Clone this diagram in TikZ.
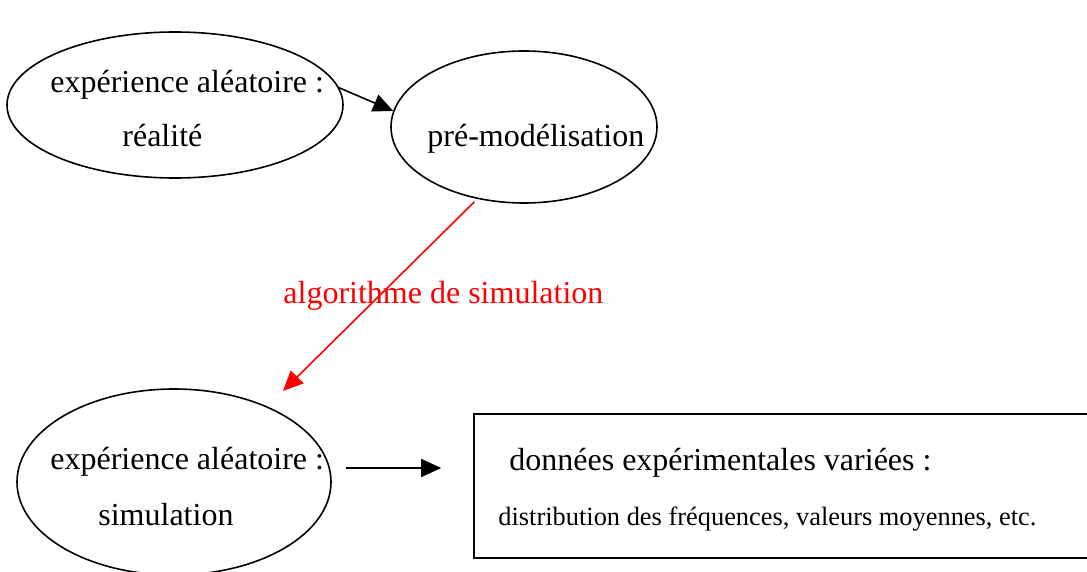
\documentclass[tikz,border=0pt]{standalone}
\usepackage{fontspec}
\setmainfont{Liberation Serif}
\usepackage{tikz}
\usetikzlibrary{shapes.geometric, arrows.meta}

\begin{document}
\begin{tikzpicture}[x=0.5pt,y=-0.5pt]
		\tikzset{state/.style={draw,ellipse,line width=0.8pt,inner sep=0pt}}
		\tikzset{databox/.style={draw,rectangle,line width=0.8pt,inner sep=0pt}}
		\tikzset{txt/.style={inner sep=0pt,anchor=base west,font=\fontsize{16}{19}\selectfont}}
		\tikzset{smalltxt/.style={inner sep=0pt,anchor=base west,font=\fontsize{13.2}{16}\selectfont}}
		\tikzset{edge/.style={-{Triangle[length=10pt,width=9pt]}, line width=0.8pt}}
		
		\useasboundingbox (0,0) rectangle (1087,572);
		
		\node(exp_real) at (175,105) [state,minimum width=168pt,minimum height=73pt] {};
		\node(premod) at (524,127) [state,minimum width=133pt,minimum height=76pt] {};
		\node(exp_sim) at (174,482) [state,minimum width=157pt,minimum height=93pt] {};
		\node(data) at (783,486) [databox,minimum width=309pt,minimum height=72pt] {};
		
		\node(t_real1) at (50,93) [txt] {expérience aléatoire :};
		\node(t_real2) at (122,147) [txt] {réalité};
		\node(t_premod) at (427,147) [txt] {pré-modélisation};
		\node(t_sim1) at (50,469) [txt] {expérience aléatoire :};
		\node(t_sim2) at (98,525) [txt] {simulation};
		\node(t_data1) at (509,470) [txt] {données expérimentales variées :};
		\node(t_data2) at (498,525) [smalltxt] {distribution des fréquences, valeurs moyennes, etc.};
		
		\draw[edge] (exp_real.6) -- (premod.173);
		\draw[edge,red,shorten <=2pt,shorten >=11pt] (premod.237) -- (exp_sim.39);
		\draw[edge,shorten <=7pt,shorten >=16pt] (exp_sim.east |- 0,468) -- (data.west |- 0,468);
		
		\node(t_algo) at (283,304) [txt,text=red] {algorithme de simulation};
		\end{tikzpicture}
\end{document}
